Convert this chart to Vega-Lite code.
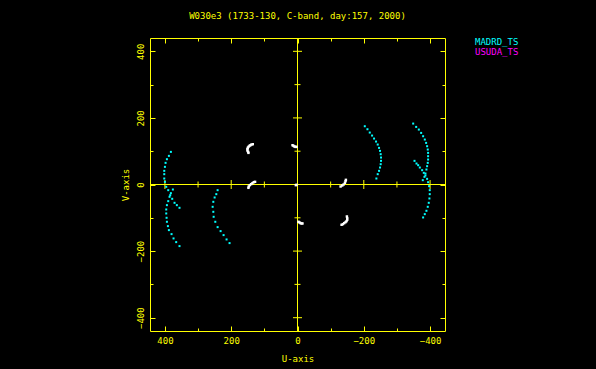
{
  "$schema": "https://vega.github.io/schema/vega-lite/v6.json",
  "width": 295,
  "height": 293,
  "autosize": {"type": "none"},
  "padding": {"left": 150, "top": 38, "right": 151, "bottom": 38},
  "background": "#000000",
  "title": {"text": "W030e3 (1733-130, C-band, day:157, 2000)", "color": "#ffff00", "font": "DejaVu Sans Mono", "fontSize": 9, "fontWeight": "normal", "anchor": "middle", "offset": 16},
  "config": {
    "view": {"stroke": null},
    "axis": {"labelFont": "DejaVu Sans Mono", "labelFontSize": 9, "labelColor": "#ffff00", "titleFont": "DejaVu Sans Mono", "titleFontSize": 9, "titleColor": "#ffff00", "titleFontWeight": "normal", "tickColor": "#ffff00", "domainColor": "#ffff00", "grid": false, "tickWidth": 1, "domainWidth": 1}
  },
  "datasets": {
    "origin": [{"u": 0, "v": 0}],
    "ticks": [
      {"value": -400, "kind": "major"}, {"value": -300, "kind": "minor"}, {"value": -200, "kind": "major"}, {"value": -100, "kind": "minor"},
      {"value": 100, "kind": "minor"}, {"value": 200, "kind": "major"}, {"value": 300, "kind": "minor"}, {"value": 400, "kind": "major"}
    ],
    "cyan": [
      {"u": 382, "v": 98, "station": "MADRD_TS"}, {"u": 388, "v": 86, "station": "MADRD_TS"}, {"u": 394, "v": 76, "station": "MADRD_TS"}, {"u": 398, "v": 65, "station": "MADRD_TS"}, {"u": 400, "v": 53, "station": "MADRD_TS"}, {"u": 402, "v": 41, "station": "MADRD_TS"}, {"u": 402, "v": 31, "station": "MADRD_TS"}, {"u": 402, "v": 18, "station": "MADRD_TS"}, {"u": 400, "v": 8, "station": "MADRD_TS"}, {"u": 396, "v": -7, "station": "MADRD_TS"}, {"u": 390, "v": -17, "station": "MADRD_TS"}, {"u": 384, "v": -32, "station": "MADRD_TS"}, {"u": 378, "v": -43, "station": "MADRD_TS"}, {"u": 371, "v": -55, "station": "MADRD_TS"}, {"u": 364, "v": -62, "station": "MADRD_TS"}, {"u": 356, "v": -70, "station": "MADRD_TS"},
      {"u": 376, "v": -15, "station": "MADRD_TS"}, {"u": 382, "v": -26, "station": "MADRD_TS"}, {"u": 386, "v": -37, "station": "MADRD_TS"}, {"u": 390, "v": -50, "station": "MADRD_TS"}, {"u": 394, "v": -62, "station": "MADRD_TS"}, {"u": 396, "v": -75, "station": "MADRD_TS"}, {"u": 396, "v": -87, "station": "MADRD_TS"}, {"u": 395, "v": -100, "station": "MADRD_TS"}, {"u": 394, "v": -112, "station": "MADRD_TS"}, {"u": 391, "v": -125, "station": "MADRD_TS"}, {"u": 388, "v": -137, "station": "MADRD_TS"}, {"u": 380, "v": -149, "station": "MADRD_TS"}, {"u": 374, "v": -162, "station": "MADRD_TS"}, {"u": 366, "v": -173, "station": "MADRD_TS"}, {"u": 356, "v": -185, "station": "MADRD_TS"},
      {"u": 241, "v": -17, "station": "MADRD_TS"}, {"u": 245, "v": -29, "station": "MADRD_TS"}, {"u": 250, "v": -39, "station": "MADRD_TS"}, {"u": 254, "v": -52, "station": "MADRD_TS"}, {"u": 256, "v": -67, "station": "MADRD_TS"}, {"u": 254, "v": -82, "station": "MADRD_TS"}, {"u": 253, "v": -97, "station": "MADRD_TS"}, {"u": 248, "v": -112, "station": "MADRD_TS"}, {"u": 241, "v": -128, "station": "MADRD_TS"}, {"u": 232, "v": -140, "station": "MADRD_TS"}, {"u": 223, "v": -152, "station": "MADRD_TS"}, {"u": 214, "v": -165, "station": "MADRD_TS"}, {"u": 205, "v": -176, "station": "MADRD_TS"},
      {"u": -203, "v": 175, "station": "MADRD_TS"}, {"u": -211, "v": 166, "station": "MADRD_TS"}, {"u": -218, "v": 156, "station": "MADRD_TS"}, {"u": -225, "v": 147, "station": "MADRD_TS"}, {"u": -231, "v": 138, "station": "MADRD_TS"}, {"u": -237, "v": 129, "station": "MADRD_TS"}, {"u": -242, "v": 120, "station": "MADRD_TS"}, {"u": -246, "v": 110, "station": "MADRD_TS"}, {"u": -249, "v": 101, "station": "MADRD_TS"}, {"u": -251, "v": 91, "station": "MADRD_TS"}, {"u": -252, "v": 81, "station": "MADRD_TS"}, {"u": -252, "v": 71, "station": "MADRD_TS"}, {"u": -251, "v": 61, "station": "MADRD_TS"}, {"u": -249, "v": 51, "station": "MADRD_TS"}, {"u": -246, "v": 41, "station": "MADRD_TS"}, {"u": -242, "v": 31, "station": "MADRD_TS"}, {"u": -238, "v": 18, "station": "MADRD_TS"},
      {"u": -349, "v": 183, "station": "MADRD_TS"}, {"u": -358, "v": 173, "station": "MADRD_TS"}, {"u": -366, "v": 165, "station": "MADRD_TS"}, {"u": -373, "v": 155, "station": "MADRD_TS"}, {"u": -379, "v": 145, "station": "MADRD_TS"}, {"u": -384, "v": 135, "station": "MADRD_TS"}, {"u": -388, "v": 125, "station": "MADRD_TS"}, {"u": -391, "v": 115, "station": "MADRD_TS"}, {"u": -393, "v": 105, "station": "MADRD_TS"}, {"u": -394, "v": 95, "station": "MADRD_TS"}, {"u": -394, "v": 85, "station": "MADRD_TS"}, {"u": -394, "v": 75, "station": "MADRD_TS"}, {"u": -393, "v": 65, "station": "MADRD_TS"}, {"u": -391, "v": 55, "station": "MADRD_TS"}, {"u": -389, "v": 45, "station": "MADRD_TS"}, {"u": -386, "v": 33, "station": "MADRD_TS"}, {"u": -383, "v": 23, "station": "MADRD_TS"}, {"u": -378, "v": 13, "station": "MADRD_TS"},
      {"u": -353, "v": 71, "station": "MADRD_TS"}, {"u": -359, "v": 63, "station": "MADRD_TS"}, {"u": -364, "v": 58, "station": "MADRD_TS"}, {"u": -369, "v": 51, "station": "MADRD_TS"}, {"u": -376, "v": 43, "station": "MADRD_TS"}, {"u": -381, "v": 35, "station": "MADRD_TS"}, {"u": -386, "v": 27, "station": "MADRD_TS"}, {"u": -391, "v": 17, "station": "MADRD_TS"}, {"u": -394, "v": 7, "station": "MADRD_TS"}, {"u": -397, "v": -5, "station": "MADRD_TS"}, {"u": -399, "v": -17, "station": "MADRD_TS"}, {"u": -399, "v": -29, "station": "MADRD_TS"}, {"u": -398, "v": -42, "station": "MADRD_TS"}, {"u": -396, "v": -55, "station": "MADRD_TS"}, {"u": -393, "v": -67, "station": "MADRD_TS"}, {"u": -389, "v": -79, "station": "MADRD_TS"}, {"u": -384, "v": -89, "station": "MADRD_TS"}, {"u": -379, "v": -99, "station": "MADRD_TS"}
    ],
    "white": [
      {"u": 135, "v": 121}, {"u": 139, "v": 120}, {"u": 142, "v": 118}, {"u": 145, "v": 116}, {"u": 148, "v": 113}, {"u": 150, "v": 110}, {"u": 151, "v": 106}, {"u": 151, "v": 102}, {"u": 149, "v": 98}, {"u": 148, "v": 95},
      {"u": 15, "v": 118}, {"u": 12, "v": 116}, {"u": 9, "v": 114}, {"u": 6, "v": 113}, {"u": 3, "v": 113},
      {"u": 128, "v": 8}, {"u": 132, "v": 7}, {"u": 136, "v": 4}, {"u": 140, "v": 1}, {"u": 144, "v": -2}, {"u": 147, "v": -6}, {"u": 148, "v": -10},
      {"u": 5, "v": -2}, {"u": 3, "v": -1},
      {"u": -146, "v": 14}, {"u": -145, "v": 10}, {"u": -143, "v": 5}, {"u": -139, "v": 0}, {"u": -135, "v": -3}, {"u": -130, "v": -6},
      {"u": -3, "v": -112}, {"u": -6, "v": -114}, {"u": -9, "v": -116}, {"u": -12, "v": -117}, {"u": -15, "v": -117},
      {"u": -149, "v": -96}, {"u": -150, "v": -101}, {"u": -150, "v": -106}, {"u": -148, "v": -110}, {"u": -145, "v": -113}, {"u": -141, "v": -116}, {"u": -137, "v": -119}, {"u": -133, "v": -121}
    ]
  },
  "resolve": {"axis": {"x": "independent", "y": "independent"}},
  "layer": [
    {
      "data": {"name": "origin"},
      "mark": {"type": "rule", "color": "#ffff00", "strokeWidth": 1},
      "encoding": {
        "x": {"field": "u", "type": "quantitative", "scale": {"domain": [-445, 445], "reverse": true, "nice": false, "zero": false},
          "axis": {"orient": "top", "values": [-300, -100, 100, 300], "labels": false, "domain": false, "tickSize": -3, "title": null}}
      }
    },
    {
      "data": {"name": "origin"},
      "mark": {"type": "rule", "color": "#ffff00", "strokeWidth": 1},
      "encoding": {
        "y": {"field": "v", "type": "quantitative", "scale": {"domain": [-440, 440], "nice": false, "zero": false},
          "axis": {"orient": "right", "values": [-300, -100, 100, 300], "labels": false, "domain": false, "tickSize": -3, "title": null}}
      }
    },
    {
      "data": {"name": "ticks"},
      "mark": {"type": "tick", "orient": "vertical", "color": "#ffff00", "thickness": 1, "opacity": 1},
      "encoding": {
        "x": {"field": "value", "type": "quantitative", "scale": {"domain": [-445, 445], "reverse": true, "nice": false, "zero": false},
          "axis": {"orient": "top", "values": [-400, -200, 0, 200, 400], "labels": false, "domain": true, "tickSize": -5, "title": null}},
        "y": {"datum": 0, "type": "quantitative", "scale": {"domain": [-440, 440], "nice": false, "zero": false}, "axis": null},
        "size": {"field": "kind", "type": "ordinal", "scale": {"domain": ["major", "minor"], "range": [9, 6]}, "legend": null}
      }
    },
    {
      "data": {"name": "ticks"},
      "mark": {"type": "tick", "orient": "horizontal", "color": "#ffff00", "thickness": 1, "opacity": 1},
      "encoding": {
        "y": {"field": "value", "type": "quantitative", "scale": {"domain": [-440, 440], "nice": false, "zero": false},
          "axis": {"orient": "right", "values": [-400, -200, 0, 200, 400], "labels": false, "domain": true, "tickSize": -5, "title": null}},
        "x": {"datum": 0, "type": "quantitative", "scale": {"domain": [-445, 445], "reverse": true, "nice": false, "zero": false}, "axis": null},
        "size": {"field": "kind", "type": "ordinal", "scale": {"domain": ["major", "minor"], "range": [9, 6]}, "legend": null}
      }
    },
    {
      "data": {"name": "cyan"},
      "mark": {"type": "square", "size": 4, "opacity": 1},
      "encoding": {
        "x": {"field": "u", "type": "quantitative", "scale": {"domain": [-445, 445], "reverse": true, "nice": false, "zero": false},
          "axis": {"orient": "bottom", "values": [-400, -200, 0, 200, 400], "format": "d", "domain": true, "tickSize": -5, "labelPadding": 10, "title": "U-axis", "titlePadding": 9}},
        "y": {"field": "v", "type": "quantitative", "scale": {"domain": [-440, 440], "nice": false, "zero": false},
          "axis": {"orient": "left", "values": [-400, -200, 0, 200, 400], "format": "d", "domain": true, "tickSize": -5, "labelPadding": 10, "labelAngle": -90, "title": "V-axis", "titlePadding": 6}},
        "color": {"field": "station", "type": "nominal", "scale": {"domain": ["MADRD_TS", "USUDA_TS"], "range": ["#00ffff", "#ff00ff"]},
          "legend": {"orient": "none", "legendX": 316, "legendY": -1, "title": null, "symbolSize": 0, "symbolOpacity": 0, "labelOffset": 0, "labelFont": "DejaVu Sans Mono", "labelFontSize": 9, "rowPadding": 0, "padding": 0,
            "encode": {"labels": {"update": {"fill": {"scale": "color", "field": "value"}}}}}}
      }
    },
    {
      "data": {"name": "white"},
      "mark": {"type": "square", "size": 6, "color": "#ffffff", "opacity": 1},
      "encoding": {
        "x": {"field": "u", "type": "quantitative", "scale": {"domain": [-445, 445], "reverse": true, "nice": false, "zero": false},
          "axis": {"orient": "bottom", "values": [-300, -100, 100, 300], "labels": false, "domain": false, "tickSize": -3, "title": null}},
        "y": {"field": "v", "type": "quantitative", "scale": {"domain": [-440, 440], "nice": false, "zero": false},
          "axis": {"orient": "left", "values": [-300, -100, 100, 300], "labels": false, "domain": false, "tickSize": -3, "title": null}}
      }
    }
  ]
}
